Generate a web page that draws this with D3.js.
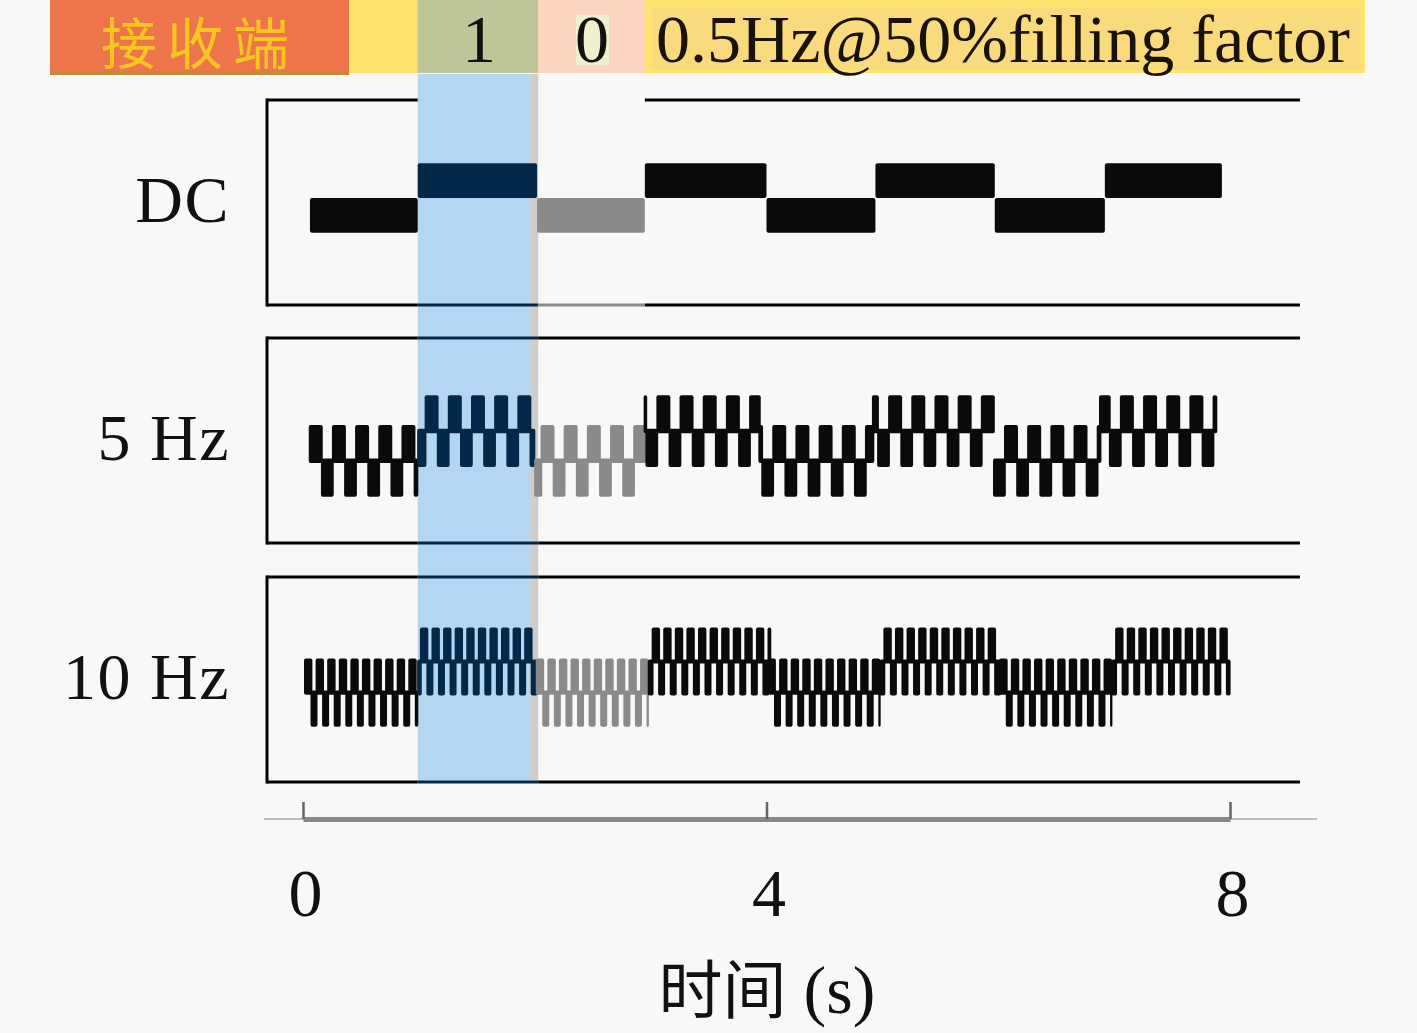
<!DOCTYPE html>
<html>
<head>
<meta charset="utf-8">
<script src="https://cdn.jsdelivr.net/npm/d3@7"></script>
<style>
  body { margin: 0; background: #f8f8f8; }
  svg { display: block; }
</style>
</head>
<body>
<svg id="chart" width="1417" height="1033"></svg>
<script>
// ---- data ----
var rowNames = ["DC", "5 Hz", "10 Hz"];
var carrierHz = [0, 5, 10];
var bits = [0, 1, 0, 1, 0, 1, 0, 1];
// segment boundaries (s) per row
var edgesDC = [0.06, 0.99, 2.02, 2.95, 4.00, 4.94, 5.97, 6.92, 7.93];
var edges5 = [0.06, 0.99, 2.00, 2.95, 3.94, 4.92, 5.96, 6.88, 7.88];
var edges10 = [0.02, 0.99, 2.02, 2.98, 4.03, 4.98, 6.02, 6.98, 8.00];
// signal level for bit 0 / bit 1 (a.u., 0-100 per panel)
var levelDC = [43.7, 60.7];
var level5 = [40.1, 54.6];
var level10 = [43.6, 58.8];
var swing = [0, 8.2, 7.8];     // carrier half swing
var noise = [8.5, 9.3, 8.8];   // noise half width
var bandOne = [0.99, 1.96];    // highlighted "1"
var bandGuard = [1.96, 2.03];
var bandZero = [2.03, 2.95];   // "0" bit
var timeTicks = [0, 4, 8];
var headerText = "0.5Hz@50%filling factor";

var edges = [edgesDC, edges5, edges10];
var levels = [levelDC, level5, level10];

var svg = d3.select('#chart');
var serif = "'Liberation Serif', 'DejaVu Serif', serif";
var cjk = "'Noto Sans CJK SC', sans-serif";

var x = d3.scaleLinear().domain([0, 8]).range([303, 1230]);
var panelTop = [100, 338, 577];
var panelH = 205;
var frameLeft = 267, frameRight = 1300;

// background band
svg.append('rect')
  .attr('x', x(bandOne[0])).attr('width', x(bandOne[1]) - x(bandOne[0]))
  .attr('y', 74).attr('height', 781 - 74)
  .attr('fill', '#b3d7f2');
svg.append('rect')
  .attr('x', x(bandGuard[0])).attr('width', x(bandGuard[1]) - x(bandGuard[0]))
  .attr('y', 74).attr('height', 781 - 74)
  .attr('fill', '#cdcdcd');

// header
svg.append('rect').attr('x', 349).attr('y', 0).attr('width', 1365 - 349).attr('height', 73).attr('fill', '#fee36c');
svg.append('rect').attr('x', x(bandOne[0])).attr('y', 0)
  .attr('width', x(bandGuard[1]) - x(bandOne[0])).attr('height', 73).attr('fill', '#bec596');
svg.append('rect').attr('x', x(bandZero[0])).attr('y', 0)
  .attr('width', x(bandZero[1]) - x(bandZero[0])).attr('height', 73).attr('fill', '#fdd5bf');
svg.append('rect').attr('x', 576).attr('y', 15).attr('width', 33).attr('height', 50).attr('fill', '#eef0cc');
svg.append('rect').attr('x', 652).attr('y', 8).attr('width', 1360 - 652).attr('height', 62).attr('fill', '#f9da7c');
svg.append('rect').attr('x', 50).attr('y', 0).attr('width', 299).attr('height', 75).attr('fill', '#c38a3e');
svg.append('rect').attr('x', 50).attr('y', 0).attr('width', 299).attr('height', 71).attr('fill', '#ee7449');

svg.append('text').attr('x', 200).attr('y', 64)
  .attr('text-anchor', 'middle').attr('font-family', cjk).attr('font-size', 56)
  .attr('letter-spacing', 10)
  .attr('fill', '#f8c622').text('接收端');
svg.append('text').attr('x', (x(bandOne[0]) + x(bandGuard[1])) / 2 + 1).attr('y', 62)
  .attr('text-anchor', 'middle').attr('font-family', serif).attr('font-size', 68)
  .attr('fill', '#111').text(bits[1]);
svg.append('text').attr('x', 592).attr('y', 62)
  .attr('text-anchor', 'middle').attr('font-family', serif).attr('font-size', 68)
  .attr('fill', '#111').text(bits[2]);
svg.append('text').attr('x', 656).attr('y', 62)
  .attr('font-family', serif).attr('font-size', 68)
  .attr('textLength', 694).attr('lengthAdjust', 'spacingAndGlyphs')
  .attr('fill', '#1a1208').text(headerText);

function segColor(t0, t1) {
  var m = (t0 + t1) / 2;
  if (m > bandOne[0] && m < bandGuard[0]) return '#04284a';
  if (m > bandGuard[1] && m < bandZero[1]) return '#8a8a8a';
  return '#0a0a0a';
}

// panels
rowNames.forEach(function(name, i) {
  var top = panelTop[i], bot = top + panelH;
  var y = d3.scaleLinear().domain([0, 100]).range([bot, top]);
  var g = svg.append('g').attr('class', 'panel panel--' + i);

  // frame lines
  var lines = [];
  if (i === 0) {
    lines.push([frameLeft, x(bandOne[0]), top, '#000']);
    lines.push([x(bandZero[1]), frameRight, top, '#000']);
  } else {
    lines.push([frameLeft, x(bandOne[0]), top, '#000']);
    lines.push([x(bandOne[0]), x(bandGuard[1]), top, '#04284a']);
    lines.push([x(bandGuard[1]), frameRight, top, '#000']);
  }
  lines.push([frameLeft, x(bandOne[0]), bot, '#000']);
  lines.push([x(bandOne[0]), x(bandGuard[1]), bot, '#04284a']);
  if (i === 0) {
    lines.push([x(bandGuard[1]), x(bandZero[1]), bot, '#8a8a8a']);
    lines.push([x(bandZero[1]), frameRight, bot, '#000']);
  } else {
    lines.push([x(bandGuard[1]), frameRight, bot, '#000']);
  }
  g.selectAll('line.h').data(lines).enter().append('line')
    .attr('class', 'h')
    .attr('x1', function(d) { return d[0]; }).attr('x2', function(d) { return d[1]; })
    .attr('y1', function(d) { return d[2]; }).attr('y2', function(d) { return d[2]; })
    .attr('stroke', function(d) { return d[3]; }).attr('stroke-width', 3);
  g.append('line').attr('x1', frameLeft).attr('x2', frameLeft)
    .attr('y1', top - 1.5).attr('y2', bot + 1.5)
    .attr('stroke', '#000').attr('stroke-width', 3);

  // signal rectangles
  var e = edges[i], f = carrierHz[i], lv = levels[i];
  var rects = [];
  for (var j = 0; j < bits.length; j++) {
    var t0 = e[j], t1 = e[j + 1], c = lv[bits[j]], col = segColor(t0, t1);
    if (f === 0) {
      rects.push({ t0: t0, t1: t1, hi: c + noise[i], lo: c - noise[i], col: col, pad: 0 });
    } else {
      var half = 0.5 / f;
      var k = Math.floor((t0 - e[0]) / half + 1e-6);
      while (e[0] + k * half < t1 - 1e-6) {
        var s0 = Math.max(e[0] + k * half, t0), s1 = Math.min(e[0] + (k + 1) * half, t1);
        var up = (k % 2 === 0);
        var cc = up ? c + swing[i] : c - swing[i];
        rects.push({ t0: s0, t1: s1, hi: cc + noise[i], lo: cc - noise[i], col: col,
                     pad: f >= 10 ? (up ? 1.3 : 0.6) : (up ? 1.2 : 0.6) });
        k++;
      }
    }
  }
  g.selectAll('rect.sig').data(rects).enter().append('rect')
    .attr('class', 'sig')
    .attr('x', function(d) { return x(d.t0) - d.pad; })
    .attr('width', function(d) { return Math.max(0.5, x(d.t1) - x(d.t0) + 2 * d.pad); })
    .attr('y', function(d) { return y(d.hi); })
    .attr('height', function(d) { return y(d.lo) - y(d.hi); })
    .attr('rx', 2)
    .attr('fill', function(d) { return d.col; });

  // row label
  svg.append('text').attr('x', 230).attr('y', top + 122)
    .attr('text-anchor', 'end').attr('font-family', serif).attr('font-size', 66)
    .attr('letter-spacing', 1.5)
    .attr('fill', '#111').text(name);
});

// time axis
svg.append('line').attr('x1', 264).attr('x2', 1317).attr('y1', 819).attr('y2', 819)
  .attr('stroke', '#bdbdbd').attr('stroke-width', 2);
var axis = svg.append('g').attr('transform', 'translate(0,819)')
  .call(d3.axisBottom(x).tickValues(timeTicks).tickSizeInner(-17).tickSizeOuter(0).tickPadding(49));
axis.select('.domain').attr('stroke', '#888').attr('stroke-width', 5);
axis.selectAll('.tick line').attr('stroke', '#666').attr('stroke-width', 2.5);
axis.selectAll('.tick text').attr('font-family', serif).attr('font-size', 68).attr('fill', '#111')
  .attr('dx', 2);

var xl = svg.append('text').attr('x', 767).attr('y', 1013)
  .attr('text-anchor', 'middle').attr('font-size', 64).attr('fill', '#111');
xl.append('tspan').attr('font-family', cjk).text('时间');
xl.append('tspan').attr('font-family', serif).attr('font-size', 68).text(' (s)');
</script>
</body>
</html>
